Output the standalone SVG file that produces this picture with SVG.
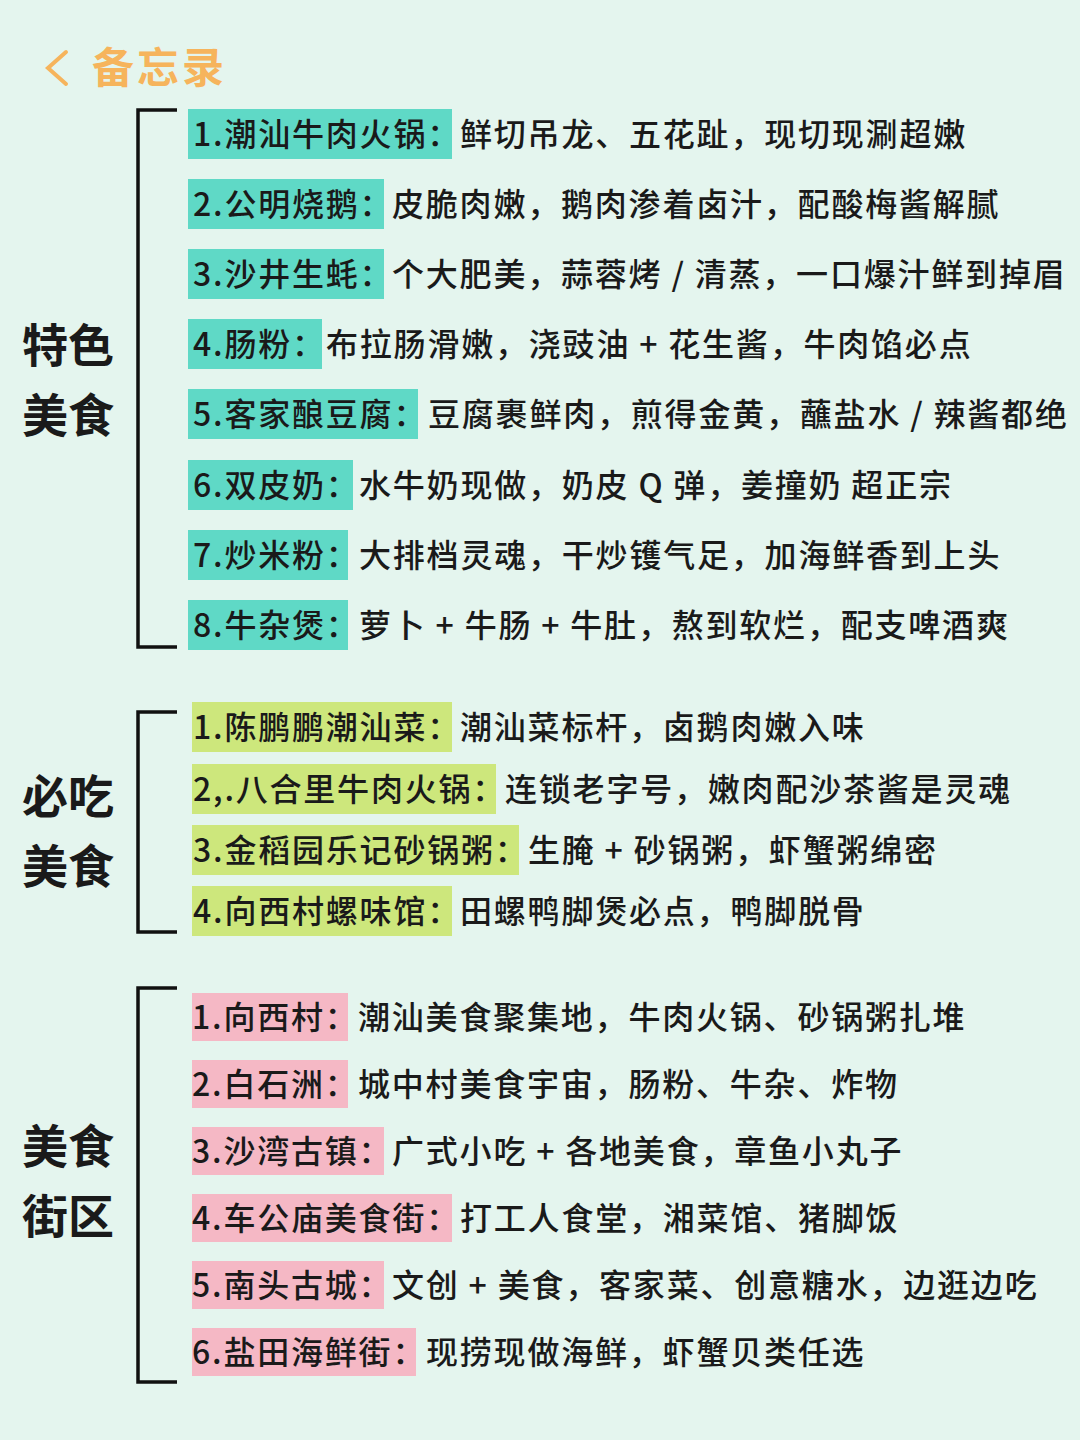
<svg xmlns="http://www.w3.org/2000/svg" width="1080" height="1440" viewBox="0 0 1080 1440">
<style>
text{font-family:"Noto Sans CJK SC","Noto Sans",sans-serif;fill:#1a1a1a}
.t{font-size:32px;letter-spacing:1.8px;font-weight:500;dominant-baseline:central}
.h{font-size:46px;font-weight:bold}
.br{fill:none;stroke:#111;stroke-width:3.5}
.a{fill:#5fd9c6}.b{fill:#cde77c}.c{fill:#f5b8c5}
</style>
<rect width="1080" height="1440" fill="#e4f5ee"/>
<g id="header"><path d="M66 52 L48 68 L66 84" fill="none" stroke="#f6b45c" stroke-width="4" stroke-linecap="round"/><text x="92" y="83" font-size="42" letter-spacing="3" font-weight="bold" style="fill:#f6b45c">备忘录</text></g>
<g id="brackets">
<path class="br" d="M177 110 H138 V647 H177"/>
<path class="br" d="M177 712 H138 V932 H177"/>
<path class="br" d="M177 988 H138 V1382 H177"/>
</g>
<g id="sec1"><text class="h" x="22" y="362">特色</text><text class="h" x="22" y="432">美食</text>
<rect class="a" x="188" y="109" width="264" height="50"/><text class="t" x="193" y="132">1.潮汕牛肉火锅：</text><text class="t" x="460" y="132">鲜切吊龙、五花趾，现切现涮超嫩</text>
<rect class="a" x="188" y="179" width="196" height="50"/><text class="t" x="193" y="202">2.公明烧鹅：</text><text class="t" x="392" y="202">皮脆肉嫩，鹅肉渗着卤汁，配酸梅酱解腻</text>
<rect class="a" x="188" y="249" width="196" height="50"/><text class="t" x="193" y="272">3.沙井生蚝：</text><text class="t" x="392" y="272">个大肥美，蒜蓉烤 / 清蒸，一口爆汁鲜到掉眉</text>
<rect class="a" x="188" y="319" width="134" height="50"/><text class="t" x="193" y="342">4.肠粉：</text><text class="t" x="326" y="342">布拉肠滑嫩，浇豉油 + 花生酱，牛肉馅必点</text>
<rect class="a" x="188" y="389" width="230" height="50"/><text class="t" x="193" y="412">5.客家酿豆腐：</text><text class="t" x="428" y="412">豆腐裹鲜肉，煎得金黄，蘸盐水 / 辣酱都绝</text>
<rect class="a" x="188" y="460" width="165" height="50"/><text class="t" x="193" y="483">6.双皮奶：</text><text class="t" x="359" y="483">水牛奶现做，奶皮 Q 弹，姜撞奶 超正宗</text>
<rect class="a" x="188" y="530" width="160" height="50"/><text class="t" x="193" y="553">7.炒米粉：</text><text class="t" x="359" y="553">大排档灵魂，干炒镬气足，加海鲜香到上头</text>
<rect class="a" x="188" y="600" width="160" height="50"/><text class="t" x="193" y="623">8.牛杂煲：</text><text class="t" x="359" y="623">萝卜 + 牛肠 + 牛肚，熬到软烂，配支啤酒爽</text>
</g>
<g id="sec2"><text class="h" x="22" y="813">必吃</text><text class="h" x="22" y="883">美食</text>
<rect class="b" x="192" y="702" width="260" height="50"/><text class="t" x="193" y="725">1.陈鹏鹏潮汕菜：</text><text class="t" x="460" y="725">潮汕菜标杆，卤鹅肉嫩入味</text>
<rect class="b" x="192" y="764" width="304" height="50"/><text class="t" x="193" y="787">2,.八合里牛肉火锅：</text><text class="t" x="505" y="787">连锁老字号，嫩肉配沙茶酱是灵魂</text>
<rect class="b" x="192" y="825" width="327" height="50"/><text class="t" x="193" y="848">3.金稻园乐记砂锅粥：</text><text class="t" x="528" y="848">生腌 + 砂锅粥，虾蟹粥绵密</text>
<rect class="b" x="192" y="886" width="260" height="50"/><text class="t" x="193" y="909">4.向西村螺味馆：</text><text class="t" x="460" y="909">田螺鸭脚煲必点，鸭脚脱骨</text>
</g>
<g id="sec3"><text class="h" x="22" y="1163">美食</text><text class="h" x="22" y="1233">街区</text>
<rect class="c" x="192" y="993" width="156" height="48"/><text class="t" x="192" y="1015">1.向西村：</text><text class="t" x="358" y="1015">潮汕美食聚集地，牛肉火锅、砂锅粥扎堆</text>
<rect class="c" x="192" y="1060" width="156" height="48"/><text class="t" x="192" y="1082">2.白石洲：</text><text class="t" x="358" y="1082">城中村美食宇宙，肠粉、牛杂、炸物</text>
<rect class="c" x="192" y="1127" width="192" height="48"/><text class="t" x="192" y="1149">3.沙湾古镇：</text><text class="t" x="392" y="1149">广式小吃 + 各地美食，章鱼小丸子</text>
<rect class="c" x="192" y="1194" width="260" height="48"/><text class="t" x="192" y="1216">4.车公庙美食街：</text><text class="t" x="460" y="1216">打工人食堂，湘菜馆、猪脚饭</text>
<rect class="c" x="192" y="1261" width="192" height="48"/><text class="t" x="192" y="1283">5.南头古城：</text><text class="t" x="392" y="1283">文创 + 美食，客家菜、创意糖水，边逛边吃</text>
<rect class="c" x="192" y="1328" width="224" height="48"/><text class="t" x="192" y="1350">6.盐田海鲜街：</text><text class="t" x="426" y="1350">现捞现做海鲜，虾蟹贝类任选</text>
</g>
</svg>
